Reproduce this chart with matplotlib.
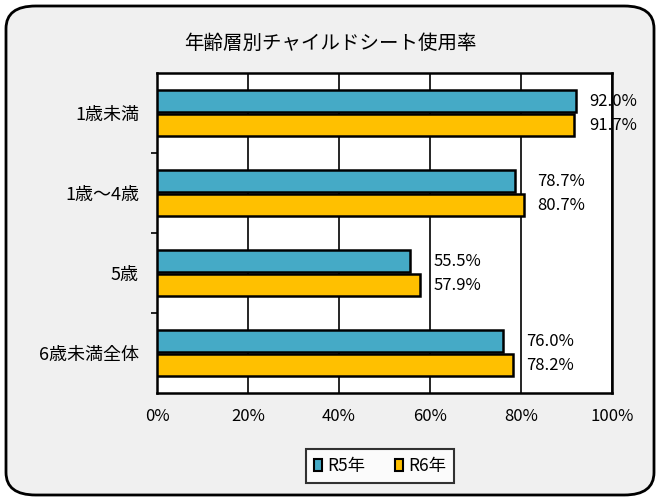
import matplotlib
matplotlib.use("Agg")
import matplotlib.pyplot as plt
from matplotlib.patches import FancyBboxPatch, Patch
import numpy as np

plt.rcParams['font.family'] = ['Noto Sans CJK JP', 'DejaVu Sans']

title = "年齢層別チャイルドシート使用率"
categories = ["1歳未満", "1歳～4歳", "5歳", "6歳未満全体"]
series_names = ["R5年", "R6年"]
r5 = [92.0, 78.7, 55.5, 76.0]
r6 = [91.7, 80.7, 57.9, 78.2]
xticks = [0, 20, 40, 60, 80, 100]
xtick_labels = ["0%", "20%", "40%", "60%", "80%", "100%"]

c5 = "#45aac6"
c6 = "#ffc000"

fig = plt.figure(figsize=(6.6, 5.01), dpi=100)
fig.patch.set_facecolor("white")
bg = FancyBboxPatch((6/660, 6/501), 648/660, 489/501,
                    boxstyle="round,pad=0,rounding_size=0.045",
                    transform=fig.transFigure, facecolor="#f0f0f0",
                    edgecolor="black", linewidth=2, zorder=-10)
fig.patches.append(bg)

ax = fig.add_axes([157/660, 1-393/501, (612-157)/660, (393-73)/501])
ax.set_facecolor("white")

y = np.arange(len(categories))
h = 0.27
off = 0.15
ax.barh(y - off, r5, height=h, color=c5, edgecolor="black", linewidth=1.8, zorder=3, label=series_names[0])
ax.barh(y + off, r6, height=h, color=c6, edgecolor="black", linewidth=1.8, zorder=3, label=series_names[1])

for yi, a, b in zip(y, r5, r6):
    xm = max(a, b)
    ax.annotate(f"{a:.1f}%", (xm, yi - off), xytext=(9.5, 0), textcoords="offset points",
                va="center", ha="left", fontsize=12, zorder=5, annotation_clip=False)
    ax.annotate(f"{b:.1f}%", (xm, yi + off), xytext=(9.5, 0), textcoords="offset points",
                va="center", ha="left", fontsize=12, zorder=5, annotation_clip=False)

ax.set_xlim(0, 100)
ax.set_ylim(len(categories) - 0.5, -0.5)
ax.set_xticks(xticks)
ax.set_xticklabels(xtick_labels, fontsize=12)
ax.tick_params(axis="x", length=0, pad=11)
ax.set_yticks(y)
ax.set_yticklabels(categories, fontsize=13)
ax.tick_params(axis="y", which="major", length=0, pad=13)
ax.set_yticks(np.arange(len(categories) - 1) + 0.5, minor=True)
ax.tick_params(axis="y", which="minor", length=4, width=1.2, direction="out")
ax.grid(axis="x", color="black", linewidth=1.2, zorder=1)
for s in ax.spines.values():
    s.set_linewidth(1.8)
    s.set_color("black")

fig.text(0.5, 1 - 43/501, title, ha="center", va="center", fontsize=14)

handles = [Patch(facecolor=c5, edgecolor="black", linewidth=1.5),
           Patch(facecolor=c6, edgecolor="black", linewidth=1.5)]
leg = fig.legend(handles, series_names, loc="center", bbox_to_anchor=(380/660, 1 - 466/501),
                 ncol=2, fontsize=12.5, frameon=True, fancybox=False, handlelength=0.45,
                 handleheight=0.7, handletextpad=0.3, columnspacing=1.7, borderpad=0.45,
                 borderaxespad=0)
leg.get_frame().set_edgecolor("black")
leg.get_frame().set_linewidth(1.5)

fig.savefig("out.png", dpi=100, facecolor=fig.get_facecolor())
